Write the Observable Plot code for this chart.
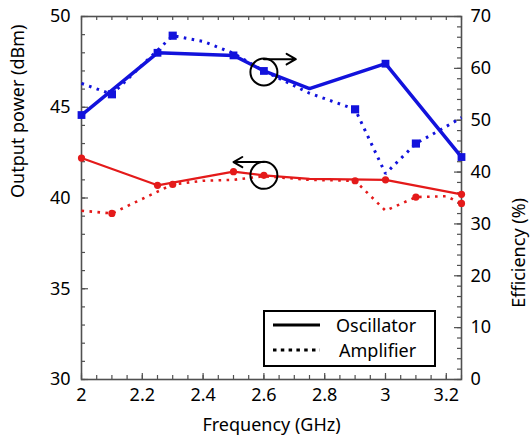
<!DOCTYPE html>
<html><head><meta charset="utf-8">
<script src="https://cdn.jsdelivr.net/npm/d3@7"></script>
<script src="https://cdn.jsdelivr.net/npm/@observablehq/plot@0.6"></script>
<style>body{margin:0;background:#fff}</style>
</head><body><div id="chart"></div>
<script>
// ---- data ----
const oscFreq  = [2.0, 2.25, 2.5, 2.6, 2.75, 3.0, 3.25];
const oscPower = [42.2, 40.7, 41.45, 41.25, 41.05, 41.0, 40.2];
const oscEff   = [51.0, 63.0, 62.5, 59.5, 56.1, 60.9, 42.9];
const oscMarkFreq = [2.0, 2.25, 2.5, 2.6, 3.0, 3.25];

const ampFreq  = [2.0, 2.1, 2.3, 2.4, 2.5, 2.6, 2.75, 2.9, 3.0, 3.1, 3.2, 3.25];
const ampPower = [39.3, 39.15, 40.75, 40.95, 41.0, 41.2, 41.0, 40.95, 39.3, 40.05, 40.1, 39.7];
const ampEff   = [57.1, 55.0, 66.3, 65.2, 62.9, 59.5, 55.2, 52.1, 39.7, 45.5, 48.8, 50.5];
const ampPowerMarkFreq = [2.1, 2.3, 2.9, 3.1, 3.25];
const ampEffMarkFreq = [2.1, 2.3, 2.9, 3.1];

const xTickLabels = [2, 2.2, 2.4, 2.6, 2.8, 3, 3.2];
const yLeftTicks = [30, 35, 40, 45, 50];
const yRightTicks = [0, 10, 20, 30, 40, 50, 60, 70];
const legendLabels = ["Oscillator", "Amplifier"];
const xLabel = "Frequency (GHz)", yLeftLabel = "Output power (dBm)", yRightLabel = "Efficiency (%)";

// ---- layout ----
const W = 531, H = 436, mL = 81, mR = 70, mT = 16, mB = 57;
const fw = W - mL - mR, fh = H - mT - mB;
const blue = "#1212dc", red = "#e41a1a", axisCol = "#505050";
const font = "'Noto Sans', sans-serif";
const toY = e => 30 + e * 20 / 70;
const fromY = y => (y - 30) * 70 / 20;
const range = (a, b, s) => d3.range(Math.round((b - a) / s) + 1).map(i => +(a + i * s).toFixed(4));

const osc = oscFreq.map((f, i) => ({f, p: oscPower[i], e: oscEff[i]}));
const amp = ampFreq.map((f, i) => ({f, p: ampPower[i], e: ampEff[i]}));
const oscM = osc.filter(d => oscMarkFreq.includes(d.f));
const ampPM = amp.filter(d => ampPowerMarkFreq.includes(d.f));
const ampEM = amp.filter(d => ampEffMarkFreq.includes(d.f));

const xMinor = range(2, 3.25, 0.05), xMajor = range(2, 3.2, 0.2);
const yMinor = range(30, 50, 1), yMajor = yLeftTicks;
const rMinor = range(0, 70, 2).map(toY), rMajor = yRightTicks.map(toY);

const tickStyle = {stroke: axisCol, strokeWidth: 1.2};
const dotted = {strokeDasharray: "2.6,5.4", strokeLinecap: "butt", strokeLinejoin: "miter"};
const plot = Plot.plot({
  width: W, height: H, marginLeft: mL, marginRight: mR, marginTop: mT, marginBottom: mB,
  style: {fontFamily: font, fontSize: "17.5px", color: "#000", background: "#fff"},
  x: {domain: [2, 3.25]},
  y: {domain: [30, 50]},
  marks: [
    // inward ticks
    Plot.tickX(xMinor, {x: d => d, insetTop: fh - 4, ...tickStyle}),
    Plot.tickX(xMajor, {x: d => d, insetTop: fh - 6, ...tickStyle}),
    Plot.tickX(xMinor, {x: d => d, insetBottom: fh - 4, ...tickStyle}),
    Plot.tickY(yMinor, {y: d => d, insetRight: fw - 4, ...tickStyle}),
    Plot.tickY(yMajor, {y: d => d, insetRight: fw - 7, ...tickStyle}),
    Plot.tickY(rMinor, {y: d => d, insetLeft: fw - 4, ...tickStyle}),
    Plot.tickY(rMajor, {y: d => d, insetLeft: fw - 7, ...tickStyle}),
    Plot.frame({stroke: axisCol, strokeWidth: 1.6}),
    Plot.axisX({ticks: xTickLabels, tickSize: 0, tickPadding: 9, tickFormat: d => String(d), label: null, fontSize: 18}),
    Plot.axisY({anchor: "left", ticks: yLeftTicks, tickSize: 0, tickPadding: 11, tickFormat: d => String(d), label: null, fontSize: 18}),
    Plot.axisY({anchor: "right", ticks: rMajor, tickSize: 0, tickPadding: 9, tickFormat: d => String(Math.round(fromY(d))), label: null, fontSize: 18}),
    Plot.text([xLabel], {frameAnchor: "bottom", dy: 46, text: d => d, fontSize: 18, lineAnchor: "middle"}),
    Plot.text([yLeftLabel], {frameAnchor: "left", dx: -63, rotate: -90, text: d => d, fontSize: 18, lineAnchor: "middle"}),
    Plot.text([yRightLabel], {frameAnchor: "right", dx: 58, rotate: -90, text: d => d, fontSize: 18, lineAnchor: "middle"}),
    // series
    Plot.line(amp, {x: "f", y: "p", stroke: red, strokeWidth: 2.6, ...dotted}),
    Plot.line(amp, {x: "f", y: d => toY(d.e), stroke: blue, strokeWidth: 3, ...dotted}),
    Plot.line(osc, {x: "f", y: "p", stroke: red, strokeWidth: 2.2}),
    Plot.line(osc, {x: "f", y: d => toY(d.e), stroke: blue, strokeWidth: 3.5}),
    Plot.dot(ampPM, {x: "f", y: "p", r: 3.6, fill: red, symbol: "circle"}),
    Plot.dot(oscM, {x: "f", y: "p", r: 3.6, fill: red, symbol: "circle"}),
    Plot.dot(ampEM, {x: "f", y: d => toY(d.e), r: 4.6, fill: blue, symbol: "square"}),
    Plot.dot(oscM, {x: "f", y: d => toY(d.e), r: 4.4, fill: blue, symbol: "square"}),
    // annotations: circles with arrows
    Plot.dot([{f: 2.6, y: toY(59.3)}], {x: "f", y: "y", r: 13.5, stroke: "#000", strokeWidth: 2, fill: "none"}),
    Plot.arrow([{x1: 2.6, x2: 2.705, y: 47.65}], {x1: "x1", x2: "x2", y1: "y", y2: "y", stroke: "#000", strokeWidth: 2, headLength: 12, bend: 0}),
    Plot.dot([{f: 2.6, y: 41.25}], {x: "f", y: "y", r: 13.5, stroke: "#000", strokeWidth: 2, fill: "none"}),
    Plot.arrow([{x1: 2.6, x2: 2.5, y: 41.98}], {x1: "x1", x2: "x2", y1: "y", y2: "y", stroke: "#000", strokeWidth: 2, headLength: 12, bend: 0})
  ]
});

// legend box drawn inside the plot area
const svg = d3.select(plot);
const g = svg.append("g").attr("font-family", font).attr("font-size", 18).attr("text-anchor", "start");
g.append("rect").attr("x", 264).attr("y", 311).attr("width", 171).attr("height", 55)
  .attr("fill", "#fff").attr("stroke", "#000").attr("stroke-width", 2);
g.append("line").attr("x1", 273).attr("x2", 320).attr("y1", 325).attr("y2", 325)
  .attr("stroke", "#000").attr("stroke-width", 3);
g.append("line").attr("x1", 273).attr("x2", 320).attr("y1", 350).attr("y2", 350)
  .attr("stroke", "#000").attr("stroke-width", 3).attr("stroke-dasharray", "3.5,4.3");
g.append("text").attr("x", 336).attr("y", 332).attr("text-anchor", "start").text(legendLabels[0]);
g.append("text").attr("x", 339).attr("y", 357).attr("text-anchor", "start").text(legendLabels[1]);

document.getElementById("chart").append(plot);
</script>
</body></html>
